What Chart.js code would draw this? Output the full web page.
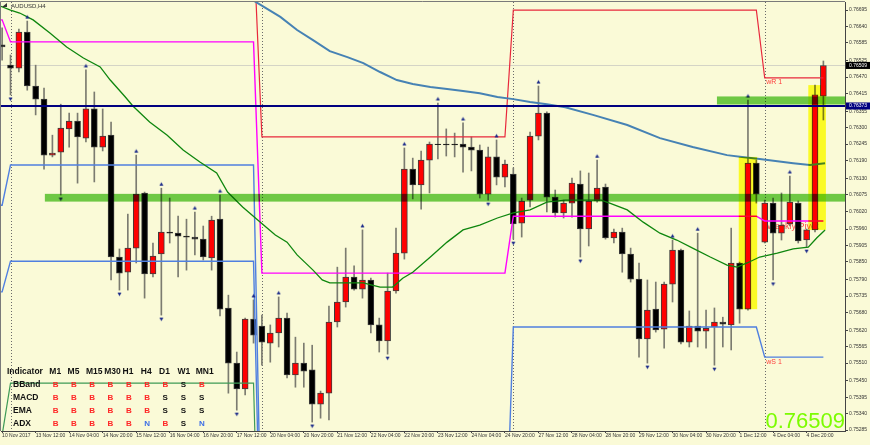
<!DOCTYPE html>
<html>
<head>
<meta charset="utf-8">
<script src="https://cdn.jsdelivr.net/npm/chart.js@4.4.0/dist/chart.umd.min.js"></script>
<style>
  html, body { margin: 0; padding: 0; background: #fafad7; }
  #wrap { width: 870px; height: 445px; }
</style>
</head>
<body>
<div id="wrap"><canvas id="audChart" width="870" height="445"></canvas></div>
<script>
// AUDUSD H4 - bar 0 is Mon 13 Nov 2017 00:00, first bar shown is Fri 10 Nov 20:00
var firstBar = -1;
var openPrices = [0.76578, 0.76510, 0.76500, 0.76621, 0.76440, 0.76396, 0.76208, 0.76218, 0.76296, 0.76322,
  0.76265, 0.76363, 0.76235, 0.76275, 0.75866, 0.75815, 0.75896, 0.76081, 0.75809, 0.75876,
  0.75950, 0.75946, 0.75936, 0.75933, 0.75926, 0.75863, 0.75993, 0.75695, 0.75510, 0.75423,
  0.75658, 0.75634, 0.75577, 0.75611, 0.75661, 0.75470, 0.75510, 0.75487, 0.75372, 0.75409,
  0.75648, 0.75715, 0.75799, 0.75758, 0.75789, 0.75638, 0.75584, 0.75752, 0.75879, 0.76161,
  0.76108, 0.76191, 0.76245, 0.76245, 0.76245, 0.76245, 0.76235, 0.76225, 0.76077, 0.76202,
  0.76134, 0.76144, 0.75980, 0.76057, 0.76272, 0.76349, 0.76067, 0.76014, 0.76047, 0.76111,
  0.75960, 0.76054, 0.76101, 0.75930, 0.75950, 0.75876, 0.75792, 0.75591, 0.75691, 0.75624,
  0.75775, 0.75889, 0.75580, 0.75634, 0.75617, 0.75631, 0.75648, 0.75638, 0.75846, 0.75691,
  0.76181, 0.75916, 0.76047, 0.75946, 0.75977, 0.76047, 0.75923, 0.75957, 0.76406];
var highPrices = [0.76635, 0.76544, 0.76631, 0.76658, 0.76510, 0.76433, 0.76275, 0.76379, 0.76349, 0.76349,
  0.76494, 0.76420, 0.76363, 0.76319, 0.75893, 0.76010, 0.76208, 0.76084, 0.75913, 0.76097,
  0.76064, 0.76003, 0.75993, 0.76017, 0.75970, 0.76003, 0.76074, 0.75738, 0.75547, 0.75661,
  0.75722, 0.75671, 0.75638, 0.75732, 0.75678, 0.75597, 0.75577, 0.75570, 0.75416, 0.75701,
  0.75832, 0.75896, 0.75836, 0.75957, 0.75795, 0.75661, 0.75812, 0.75963, 0.76232, 0.76198,
  0.76222, 0.76252, 0.76383, 0.76296, 0.76282, 0.76316, 0.76269, 0.76242, 0.76235, 0.76259,
  0.76191, 0.76165, 0.76064, 0.76285, 0.76440, 0.76353, 0.76091, 0.76057, 0.76131, 0.76155,
  0.76148, 0.76191, 0.76111, 0.75960, 0.75963, 0.75896, 0.75846, 0.75789, 0.75782, 0.75782,
  0.75923, 0.75893, 0.75685, 0.75946, 0.75688, 0.75695, 0.75664, 0.75963, 0.75849, 0.76393,
  0.76191, 0.76057, 0.76064, 0.76081, 0.76138, 0.76054, 0.75960, 0.76443, 0.76524];
var lowPrices = [0.76527, 0.76410, 0.76487, 0.76426, 0.76343, 0.76161, 0.76202, 0.76074, 0.76235, 0.76114,
  0.76252, 0.76118, 0.76222, 0.75789, 0.75755, 0.75755, 0.75846, 0.75728, 0.75799, 0.75671,
  0.75913, 0.75799, 0.75822, 0.75873, 0.75856, 0.75822, 0.75668, 0.75409, 0.75352, 0.75403,
  0.75577, 0.75503, 0.75513, 0.75564, 0.75460, 0.75429, 0.75429, 0.75312, 0.75325, 0.75319,
  0.75631, 0.75698, 0.75755, 0.75728, 0.75611, 0.75547, 0.75540, 0.75745, 0.75859, 0.76061,
  0.76027, 0.76081, 0.76195, 0.76205, 0.76202, 0.76151, 0.76155, 0.76064, 0.76057, 0.76108,
  0.76101, 0.75926, 0.75933, 0.76034, 0.76259, 0.76017, 0.76000, 0.75997, 0.76000, 0.75866,
  0.75903, 0.76050, 0.75926, 0.75913, 0.75815, 0.75782, 0.75530, 0.75510, 0.75614, 0.75560,
  0.75715, 0.75574, 0.75564, 0.75564, 0.75560, 0.75503, 0.75564, 0.75554, 0.75644, 0.75688,
  0.76047, 0.75913, 0.75789, 0.75923, 0.75970, 0.75913, 0.75899, 0.75950, 0.76326];
var closePrices = [0.76571, 0.76500, 0.76621, 0.76440, 0.76396, 0.76208, 0.76215, 0.76299, 0.76322, 0.76269,
  0.76363, 0.76235, 0.76272, 0.75866, 0.75812, 0.75896, 0.76077, 0.75809, 0.75869, 0.75950,
  0.75946, 0.75936, 0.75933, 0.75926, 0.75866, 0.75990, 0.75691, 0.75510, 0.75423, 0.75658,
  0.75604, 0.75580, 0.75611, 0.75661, 0.75470, 0.75510, 0.75483, 0.75372, 0.75409, 0.75648,
  0.75715, 0.75799, 0.75758, 0.75789, 0.75638, 0.75584, 0.75752, 0.75879, 0.76161, 0.76108,
  0.76191, 0.76245, 0.76243, 0.76242, 0.76242, 0.76235, 0.76225, 0.76077, 0.76202, 0.76134,
  0.76178, 0.75977, 0.76054, 0.76272, 0.76349, 0.76067, 0.76014, 0.76047, 0.76114, 0.75960,
  0.76054, 0.76097, 0.75930, 0.75950, 0.75876, 0.75792, 0.75591, 0.75688, 0.75621, 0.75775,
  0.75889, 0.75580, 0.75634, 0.75617, 0.75627, 0.75648, 0.75641, 0.75846, 0.75691, 0.76181,
  0.76077, 0.76047, 0.75946, 0.75973, 0.76050, 0.75920, 0.75957, 0.76410, 0.76509];

var xTickBars = [-1, 3, 7, 11, 15, 19, 23, 27, 31, 35, 39, 43, 47, 51, 55, 59, 63, 67, 71, 75, 79, 83, 87, 91, 95];
var xTickText = ['10 Nov 2017', '13 Nov 12:00', '14 Nov 04:00', '14 Nov 20:00', '15 Nov 12:00', '16 Nov 04:00',
  '16 Nov 20:00', '17 Nov 12:00', '20 Nov 04:00', '20 Nov 20:00', '21 Nov 12:00', '22 Nov 04:00',
  '22 Nov 20:00', '23 Nov 12:00', '24 Nov 04:00', '24 Nov 20:00', '27 Nov 12:00', '28 Nov 04:00',
  '28 Nov 20:00', '29 Nov 12:00', '30 Nov 04:00', '30 Nov 20:00', '1 Dec 12:00', '4 Dec 04:00', '4 Dec 20:00'];
var yTickValues = [0.76695, 0.76640, 0.76585, 0.76525, 0.76470, 0.76415, 0.76355, 0.76300, 0.76245, 0.76190,
  0.76130, 0.76075, 0.76020, 0.75960, 0.75905, 0.75850, 0.75790, 0.75735, 0.75680, 0.75620,
  0.75565, 0.75510, 0.75450, 0.75395, 0.75340, 0.75285];

// moving averages (bar position, price)
var emaBars = [-1.2, 0, 1.1, 2.7, 4.7, 6.7, 8.7, 10.7, 11.9, 13.7, 14.6, 16.6, 18.7, 20.6, 22.6, 24.6, 25.9, 27.7,
  29.5, 31.6, 33, 34.2, 36.1, 37.2, 38.1, 40.2, 42.1, 44.1, 45.6, 46.8, 48, 50.1, 52.1, 54, 56, 58.1, 60, 62, 64,
  66.2, 70.5, 71.5, 73.6, 75.5, 77.5, 79.5, 81.4, 83.5, 85.5, 86.7, 87.9, 89.4, 91.5, 93.4, 95.2, 96.2, 97.2];
var emaValues = [0.76708, 0.76695, 0.76685, 0.76662, 0.76618, 0.76571, 0.76534, 0.76504, 0.76460, 0.76403,
  0.76373, 0.76319, 0.76275, 0.76225, 0.76185, 0.76148, 0.76084, 0.76034, 0.75990, 0.75940, 0.75916, 0.75873,
  0.75822, 0.75789, 0.75779, 0.75779, 0.75779, 0.75765, 0.75765, 0.75795, 0.75815, 0.75866, 0.75916, 0.75957,
  0.75973, 0.75997, 0.76014, 0.76024, 0.76050, 0.76057, 0.76057, 0.76047, 0.76024, 0.75983, 0.75946, 0.75923,
  0.75896, 0.75866, 0.75839, 0.75832, 0.75846, 0.75866, 0.75879, 0.75893, 0.75899, 0.75930, 0.75957];
var smaBars = [27.4, 29.1, 32.2, 34.2, 36.1, 38.1, 40.2, 42.1, 44.1, 46.1, 48, 50.1, 52.1, 54, 56, 58.1, 60,
  62, 64, 66.2, 69.5, 73.6, 77.5, 81.4, 85.5, 87.3, 89.4, 93.4, 95.4, 97.2];
var smaValues = [0.76752, 0.76725, 0.76672, 0.76628, 0.76594, 0.76557, 0.76537, 0.76517, 0.76487, 0.76460,
  0.76447, 0.76437, 0.76430, 0.76423, 0.76416, 0.76403, 0.76396, 0.76386, 0.76379, 0.76369, 0.76343, 0.76309,
  0.76265, 0.76235, 0.76208, 0.76202, 0.76195, 0.76181, 0.76175, 0.76181];

// weekly pivot levels
var weekFirstBar = [-2, 0, 30, 60, 90];
var weekLastBar = [-1, 29, 59, 89, 97];
var pivotLevel = [0.76662, 0.76588, 0.75812, 0.76003, 0.75987];
var r1Level = [0.77050, 0.76920, 0.76269, 0.76695, 0.76467];
var s1Level = [0.76040, 0.76175, 0.74800, 0.75631, 0.75530];
var s2Level = [0.75749, 0.75852, 0.74650, null, null];
var s3Level = [0.75268, 0.75443, 0.74400, null, null];

var upFractalBars = [2, 9, 15, 18, 22, 25, 29, 32, 42, 47, 51, 54, 58, 63, 70, 79, 82, 88, 93];
var downFractalBars = [0, 6, 13, 18, 27, 36, 45, 57, 60, 68, 76, 84, 91, 95];

var bidPrice = 0.76509;
var navyLinePrice = 0.76373;
var greenZones = [[4.1, 0.76078, 0.76052], [84.3, 0.76405, 0.76378]];
var yellowBoxes = [[86.9, 89.1, 0.76202, 0.75691], [95.2, 97.3, 0.76443, 0.75957]];

var tableCols = ['M1', 'M5', 'M15', 'M30', 'H1', 'H4', 'D1', 'W1', 'MN1'];
var tableRows = ['BBand', 'MACD', 'EMA', 'ADX'];
var tableSignals = ['BBBBBBBSB', 'BBBBBBSSS', 'BBBBBBSSS', 'BBBBBNBSN'];

var FONT = '"Liberation Sans", Arial, sans-serif';

// build the datasets
var barNums = openPrices.map(function (o, i) { return firstBar + i; });
var wickData = barNums.map(function (b, i) { return { x: b, y: [lowPrices[i], highPrices[i]] }; });
var bodyData = barNums.map(function (b, i) { return { x: b, y: [openPrices[i], closePrices[i]] }; });
var bodyColors = barNums.map(function (b, i) { return closePrices[i] > openPrices[i] ? '#ff0000' : '#000000'; });

function stepLine(levels) {
  var pts = [];
  levels.forEach(function (v, w) {
    if (v === null) return;
    pts.push({ x: weekFirstBar[w], y: v });
    pts.push({ x: weekLastBar[w], y: v });
  });
  return pts;
}
function pairs(xs, ys) {
  return xs.map(function (x, i) { return { x: x, y: ys[i] }; });
}
// small fractal glyph, drawn off-centre so it sits above the high / below the low
function arrowCanvas(up) {
  var c = document.createElement('canvas');
  c.width = 5; c.height = 15;
  var g = c.getContext('2d');
  g.strokeStyle = '#1b2a8a';
  g.fillStyle = '#1b2a8a';
  g.lineWidth = 1;
  g.beginPath();
  if (up) { g.moveTo(2.5, 1.5); g.lineTo(4.5, 5); g.lineTo(0.5, 5); }
  else { g.moveTo(0.5, 10); g.lineTo(4.5, 10); g.lineTo(2.5, 13.5); }
  g.closePath();
  g.fill();
  return c;
}

var lineBase = { type: 'line', pointRadius: 0, tension: 0, fill: false };

var overlay = {
  id: 'mtOverlay',
  beforeDraw: function (chart) {
    var ctx = chart.ctx;
    ctx.save();
    ctx.fillStyle = '#fafad7';
    ctx.fillRect(0, 0, chart.width, chart.height);
    ctx.restore();
  },
  beforeDatasetsDraw: function (chart) {
    var ctx = chart.ctx, xs = chart.scales.x, ys = chart.scales.y, a = chart.chartArea;
    ctx.save();
    ctx.strokeStyle = '#6a6a6a';
    ctx.lineWidth = 1;
    ctx.setLineDash([1, 2]);
    weekFirstBar.forEach(function (b) {
      if (b < 0) return;
      var px = Math.round(xs.getPixelForValue(b)) + 0.5;
      ctx.beginPath(); ctx.moveTo(px, a.top); ctx.lineTo(px, a.bottom); ctx.stroke();
    });
    ctx.setLineDash([]);
    var by = Math.round(ys.getPixelForValue(bidPrice)) + 0.5;
    ctx.strokeStyle = '#d4d4c6';
    ctx.beginPath(); ctx.moveTo(a.left, by); ctx.lineTo(a.right, by); ctx.stroke();
    // pivot caption sits behind the candles
    var w = weekFirstBar.length - 1;
    ctx.fillStyle = '#ff4a4a';
    ctx.font = '9px ' + FONT;
    ctx.textBaseline = 'top';
    ctx.fillText('Weekly Pivot', xs.getPixelForValue(weekFirstBar[w]) + 2, ys.getPixelForValue(pivotLevel[w]) + 1);
    ctx.restore();
  },
  afterDatasetsDraw: function (chart) {
    var ctx = chart.ctx, xs = chart.scales.x, ys = chart.scales.y, a = chart.chartArea;
    ctx.save();
    ctx.beginPath();
    ctx.rect(a.left, a.top, a.right - a.left, a.bottom - a.top);
    ctx.clip();
    ctx.globalCompositeOperation = 'multiply';
    ctx.fillStyle = 'rgb(255,255,45)';
    yellowBoxes.forEach(function (b) {
      var x0 = xs.getPixelForValue(b[0]), x1 = xs.getPixelForValue(b[1]);
      var y0 = ys.getPixelForValue(b[2]), y1 = ys.getPixelForValue(b[3]);
      ctx.fillRect(x0, y0, x1 - x0, y1 - y0);
    });
    ctx.fillStyle = 'rgb(112,204,80)';
    greenZones.forEach(function (z) {
      var x0 = xs.getPixelForValue(z[0]);
      var y0 = ys.getPixelForValue(z[1]), y1 = ys.getPixelForValue(z[2]);
      ctx.fillRect(x0, y0, a.right - x0, y1 - y0);
    });
    ctx.globalCompositeOperation = 'source-over';
    var ny = ys.getPixelForValue(navyLinePrice);
    ctx.strokeStyle = '#000080';
    ctx.lineWidth = 2;
    ctx.beginPath(); ctx.moveTo(a.left, ny); ctx.lineTo(a.right, ny); ctx.stroke();

    // level captions for the current week
    var w = weekFirstBar.length - 1;
    var lx = xs.getPixelForValue(weekFirstBar[w]) + 1.5;
    ctx.fillStyle = '#ff3c3c';
    ctx.font = '7px ' + FONT;
    ctx.textBaseline = 'top';
    ctx.fillText('wR 1', lx, ys.getPixelForValue(r1Level[w]) + 1);
    ctx.fillText('wS 1', lx, ys.getPixelForValue(s1Level[w]) + 1);
    ctx.restore();
  },
  afterDraw: function (chart) {
    var ctx = chart.ctx, ys = chart.scales.y, a = chart.chartArea;
    ctx.save();
    // frame top / left
    ctx.strokeStyle = '#7a7a7a';
    ctx.lineWidth = 1;
    ctx.beginPath();
    ctx.moveTo(a.left - 0.5, a.bottom); ctx.lineTo(a.left - 0.5, a.top - 0.5); ctx.lineTo(a.right, a.top - 0.5);
    ctx.stroke();

    // symbol caption
    ctx.fillStyle = '#333';
    ctx.beginPath(); ctx.moveTo(2, 7); ctx.lineTo(7, 3); ctx.lineTo(7, 7); ctx.closePath(); ctx.fill();
    ctx.font = '6px ' + FONT;
    ctx.textBaseline = 'middle';
    ctx.fillText('AUDUSD,H4', 11, 6);

    // signal table
    ctx.font = 'bold 8.5px ' + FONT;
    ctx.fillStyle = '#111';
    ctx.fillText('Indicator', 7, 372);
    tableCols.forEach(function (c, k) { ctx.fillText(c, 49.3 + 18.3 * k, 372); });
    tableRows.forEach(function (r, j) {
      var ty = 384.3 + 13 * j;
      ctx.fillStyle = '#111';
      ctx.font = 'bold 8.5px ' + FONT;
      ctx.fillText(r, 13, ty);
      ctx.font = 'bold 8px ' + FONT;
      for (var k = 0; k < tableCols.length; k++) {
        var ch = tableSignals[j].charAt(k);
        ctx.fillStyle = ch === 'B' ? '#ff2626' : (ch === 'N' ? '#3d6fe6' : '#111');
        ctx.fillText(ch, 52.7 + 18.3 * k, ty);
      }
    });

    // big last price
    ctx.font = '22px ' + FONT;
    ctx.fillStyle = '#7cfc00';
    ctx.textAlign = 'right';
    ctx.textBaseline = 'alphabetic';
    ctx.fillText(bidPrice.toFixed(5), a.right, 428);

    // price tags on the axis
    ctx.textAlign = 'left';
    ctx.textBaseline = 'middle';
    ctx.font = '5px ' + FONT;
    [[bidPrice, '#000000'], [navyLinePrice, '#000080']].forEach(function (t) {
      var py = ys.getPixelForValue(t[0]);
      ctx.fillStyle = t[1];
      ctx.fillRect(a.right + 1, py - 3.5, chart.width - a.right - 1, 7);
      ctx.fillStyle = '#ffffff';
      ctx.fillText(t[0].toFixed(5), a.right + 4, py);
    });
    ctx.restore();
  }
};

new Chart(document.getElementById('audChart'), {
  type: 'bar',
  data: {
    datasets: [
      { type: 'bar', data: wickData, backgroundColor: '#7b7b70', borderWidth: 0, barThickness: 1, grouped: false, order: 9 },
      { type: 'bar', data: bodyData, backgroundColor: bodyColors, borderColor: '#3c3c3c', borderWidth: 1,
        borderSkipped: false, barThickness: 6, grouped: false, order: 8 },
      Object.assign({ data: stepLine(s3Level), borderColor: '#3e9a56', borderWidth: 1.2, order: 7 }, lineBase),
      Object.assign({ data: stepLine(s2Level), borderColor: '#4f7fe0', borderWidth: 1.4, order: 7 }, lineBase),
      Object.assign({ data: stepLine(s1Level), borderColor: '#4f7fe0', borderWidth: 1.4, order: 7 }, lineBase),
      Object.assign({ data: stepLine(r1Level), borderColor: '#e8283c', borderWidth: 1.2, order: 7 }, lineBase),
      Object.assign({ data: stepLine(pivotLevel), borderColor: '#ff00ff', borderWidth: 1.4, order: 6 }, lineBase),
      Object.assign({ data: pairs(smaBars, smaValues), borderColor: '#4682b4', borderWidth: 2, order: 5 }, lineBase),
      Object.assign({ data: pairs(emaBars, emaValues), borderColor: '#0e860e', borderWidth: 1.3, order: 4 }, lineBase),
      { type: 'line', showLine: false, order: 1, pointStyle: arrowCanvas(true), pointRadius: 3,
        data: upFractalBars.map(function (b) { return { x: b, y: highPrices[b - firstBar] }; }) },
      { type: 'line', showLine: false, order: 1, pointStyle: arrowCanvas(false), pointRadius: 3,
        data: downFractalBars.map(function (b) { return { x: b, y: lowPrices[b - firstBar] }; }) }
    ]
  },
  options: {
    responsive: false,
    animation: false,
    devicePixelRatio: 1,
    events: [],
    layout: { autoPadding: false, padding: { top: 2, left: 1, right: 0, bottom: 0 } },
    plugins: { legend: { display: false }, tooltip: { enabled: false } },
    scales: {
      x: {
        type: 'linear',
        min: -1.134,
        max: 99.58,
        offset: false,
        grid: { offset: false, drawOnChartArea: false, drawTicks: true, tickLength: 2, color: '#444' },
        border: { display: true, color: '#444' },
        ticks: {
          autoSkip: false, maxRotation: 0, align: 'start', padding: 0, color: '#333',
          font: { family: FONT, size: 5 },
          callback: function (v, i) { return xTickText[i]; }
        },
        afterBuildTicks: function (s) { s.ticks = xTickBars.map(function (v) { return { value: v }; }); },
        afterFit: function (s) { s.height = 14; s.paddingLeft = 0; s.paddingRight = 0; }
      },
      y: {
        type: 'linear',
        position: 'right',
        min: 0.75282,
        max: 0.76722,
        grid: { drawOnChartArea: false, drawTicks: true, tickLength: 3, color: '#444' },
        border: { display: true, color: '#444' },
        ticks: {
          autoSkip: false, padding: 1, color: '#333',
          font: { family: FONT, size: 5 },
          callback: function (v) { return v.toFixed(5); }
        },
        afterBuildTicks: function (s) { s.ticks = yTickValues.map(function (v) { return { value: v }; }); },
        afterFit: function (s) { s.width = 25; s.paddingTop = 0; s.paddingBottom = 0; }
      }
    }
  },
  plugins: [overlay]
});
</script>
</body>
</html>
